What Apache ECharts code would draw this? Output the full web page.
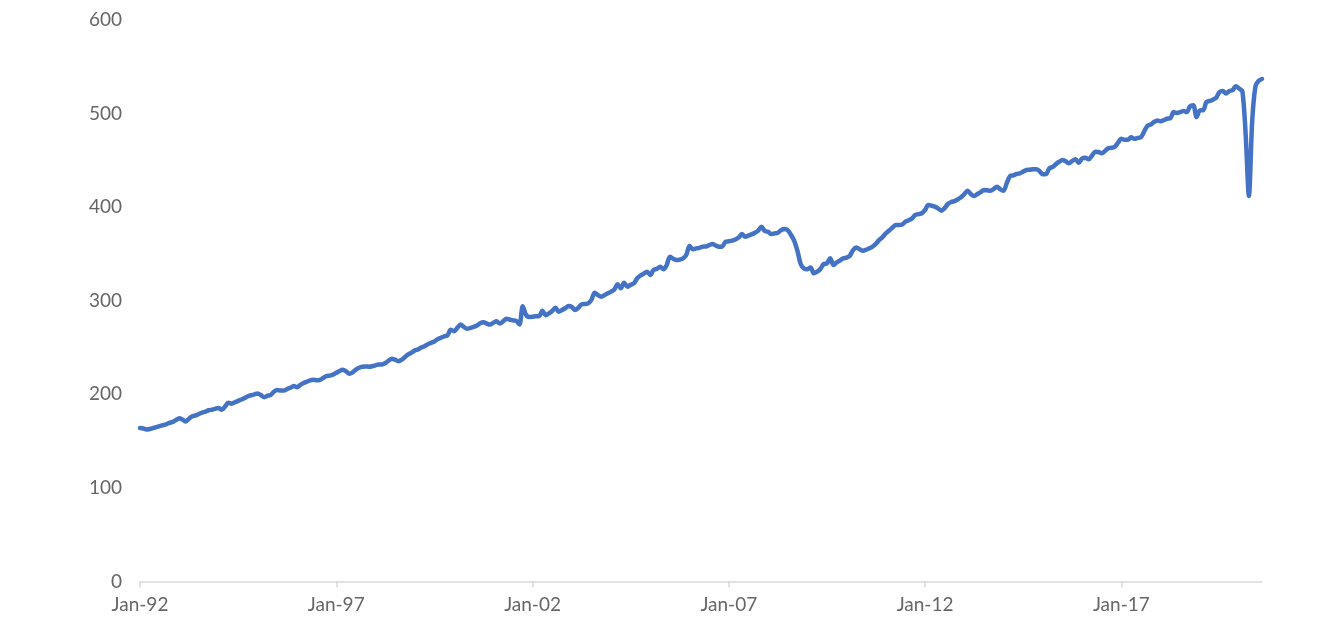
<!DOCTYPE html>
<html>
<head>
<meta charset="utf-8">
<script src="https://cdn.jsdelivr.net/npm/echarts@6/dist/echarts.min.js"></script>
<style>
  html, body { margin: 0; padding: 0; background: #fff; }
  #chart { width: 1342px; height: 629px; }
</style>
</head>
<body>
<div id="chart"></div>
<script>
// monthly values, Jan-92 .. Aug-20, one row per year
var y1992 = [164, 163.5, 162.5, 163, 164, 165, 166, 167, 168, 169.5, 170.5, 172.5];
var y1993 = [174.5, 173, 171, 174, 176.5, 177.5, 179, 180.5, 181.5, 183, 183.6, 184.5];
var y1994 = [185.5, 183.6, 187, 191, 190, 191.5, 193, 194.5, 196, 198, 199, 200];
var y1995 = [201, 199, 197, 198.5, 199.5, 203, 204.5, 204, 204, 205.7, 207, 209];
var y1996 = [207.5, 210, 212, 213.5, 215, 215.5, 215, 215.5, 217.5, 219.5, 220, 221];
var y1997 = [223, 225, 226.3, 224.5, 222, 223.5, 226.5, 228.4, 229.5, 229.8, 229.5, 230];
var y1998 = [231, 232, 232, 233.5, 236, 238, 237, 235.4, 237, 240, 242.6, 244.5];
var y1999 = [246.9, 248, 250, 251.5, 253.5, 255, 256.5, 259, 260.5, 262, 263, 269];
var y2000 = [267.5, 271, 274.7, 272, 270, 271, 272, 273.5, 276, 277, 275.5, 274.5];
var y2001 = [276.5, 278, 275.6, 278, 280.8, 280, 279, 278.5, 274.7, 294, 285, 282.7];
var y2002 = [283, 283.5, 283.5, 289.3, 284.6, 286.5, 289, 292.5, 288.3, 290, 292, 294.4];
var y2003 = [293.5, 290, 292.5, 296.2, 296.5, 297.2, 301, 308.6, 306, 304.3, 306, 307.9];
var y2004 = [309.7, 312, 317.6, 313.3, 319.3, 315, 317, 318.7, 324, 327, 329, 331];
var y2005 = [327.5, 332.9, 334, 336.4, 333.6, 338, 347, 345, 343.5, 344, 345.3, 348.9];
var y2006 = [358.5, 355, 356, 356.5, 357.8, 358, 359.5, 360.6, 359, 357.8, 358, 363.1];
var y2007 = [363.5, 364.2, 365.5, 367.5, 371.3, 368.5, 369.5, 371, 372.7, 375, 379.1, 374.5];
var y2008 = [373.8, 371.3, 372, 372.7, 375.5, 376.7, 375.5, 370.5, 364, 353, 339, 334.5];
var y2009 = [333.6, 335.5, 329.3, 331, 334, 339.3, 340, 345.3, 338.2, 341, 343, 345.3];
var y2010 = [346, 348, 354.2, 357, 355, 353.5, 354.5, 356, 358, 361, 365, 368];
var y2011 = [372.1, 375, 378, 381, 381, 381.5, 384.5, 386, 388, 391.7, 392.5, 393.5];
var y2012 = [397, 402.4, 401.5, 400.6, 398.5, 396.3, 399, 403.5, 405.5, 406.5, 408.4, 410.5];
var y2013 = [414, 417.6, 414, 412, 414, 416, 418.4, 418, 417.6, 419.5, 421.9, 419];
var y2014 = [417.6, 426, 433.3, 434, 435.5, 436.2, 438, 439.8, 440, 440.5, 440.5, 438.5];
var y2015 = [435.1, 435.5, 441.5, 443, 446, 448.5, 450.4, 449, 446.8, 449.5, 451.1, 447.5];
var y2016 = [452, 452.8, 451.1, 455, 459.3, 459, 457.5, 460, 462.9, 463.5, 464.6, 469];
var y2017 = [473, 472, 472, 474.8, 473, 474, 474.8, 481, 487, 488.4, 491, 492.6];
var y2018 = [491.9, 493, 494.5, 495, 501.6, 500.6, 501.5, 502.7, 501.6, 507.7, 508.8, 496.3];
var y2019 = [503.4, 503.5, 512.3, 513.5, 514.9, 517, 523.1, 524.2, 521.4, 524.2, 525, 529.2];
var y2020 = [526.8, 524, 478, 412, 492, 529, 535, 537];

var yTicks = [0, 600, 100]; // min, max, step

var sales = [].concat(y1992, y1993, y1994, y1995, y1996, y1997, y1998, y1999, y2000,
    y2001, y2002, y2003, y2004, y2005, y2006, y2007, y2008, y2009, y2010, y2011,
    y2012, y2013, y2014, y2015, y2016, y2017, y2018, y2019, y2020);

var monthNames = ['Jan', 'Feb', 'Mar', 'Apr', 'May', 'Jun', 'Jul', 'Aug', 'Sep', 'Oct', 'Nov', 'Dec'];
var months = [];
for (var i = 0; i < sales.length; i++) {
    var yr = (1992 + Math.floor(i / 12)) % 100;
    months.push(monthNames[i % 12] + '-' + (yr < 10 ? '0' : '') + yr);
}

var textStyle = { fontFamily: 'Lato', fontSize: 19, color: '#666666' };

var chart = echarts.init(document.getElementById('chart'));
chart.setOption({
    animation: false,
    grid: { left: 140, right: 80, top: 20, bottom: 47.5, containLabel: false },
    xAxis: {
        type: 'category',
        data: months,
        boundaryGap: false,
        axisLine: { lineStyle: { color: '#d9d9d9', width: 1.5 } },
        axisTick: { show: true, interval: 59, length: 6, lineStyle: { color: '#d9d9d9', width: 1.5 } },
        axisLabel: Object.assign({ interval: 59, margin: 14 }, textStyle),
        splitLine: { show: false }
    },
    yAxis: {
        type: 'value',
        min: yTicks[0], max: yTicks[1], interval: yTicks[2],
        axisLine: { show: false },
        axisTick: { show: false },
        splitLine: { show: false },
        axisLabel: Object.assign({ margin: 18 }, textStyle)
    },
    series: [{
        type: 'line',
        data: sales,
        symbol: 'none',
        smooth: 0.3,
        lineStyle: { color: '#4472C4', width: 4.5, join: 'round', cap: 'round' }
    }]
});
</script>
</body>
</html>
